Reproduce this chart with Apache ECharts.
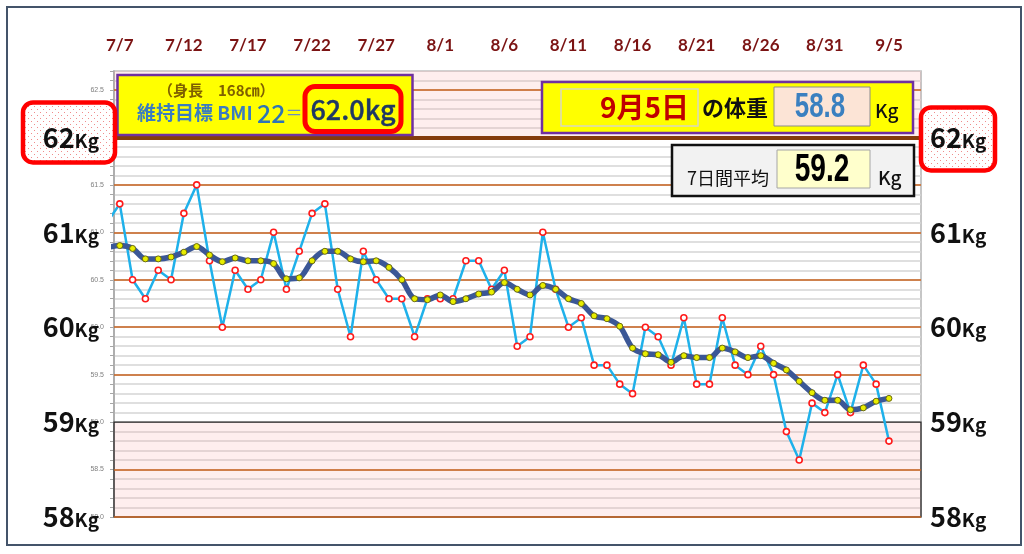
<!DOCTYPE html>
<html>
<head>
<meta charset="utf-8">
<script src="https://cdn.jsdelivr.net/npm/echarts@6/dist/echarts.min.js"></script>
<style>
  html, body { margin: 0; padding: 0; background: #fff; }
  #chart-container { width: 1024px; height: 554px; }
</style>
</head>
<body>
<div id="chart-container"></div>
<script>
// fechas (7/6 queda fuera del eje, solo para que la linea entre por la izquierda)
const dates = [
  '7/6', '7/7', '7/8', '7/9', '7/10', '7/11', '7/12', '7/13', '7/14', '7/15', '7/16',
  '7/17', '7/18', '7/19', '7/20', '7/21', '7/22', '7/23', '7/24', '7/25', '7/26',
  '7/27', '7/28', '7/29', '7/30', '7/31',
  '8/1', '8/2', '8/3', '8/4', '8/5', '8/6', '8/7', '8/8', '8/9', '8/10',
  '8/11', '8/12', '8/13', '8/14', '8/15', '8/16', '8/17', '8/18', '8/19', '8/20',
  '8/21', '8/22', '8/23', '8/24', '8/25', '8/26', '8/27', '8/28', '8/29', '8/30', '8/31',
  '9/1', '9/2', '9/3', '9/4', '9/5'
];

const weights = [
  61.1,
  61.3, 60.5, 60.3, 60.6, 60.5, 61.2, 61.5, 60.7, 60.0, 60.6,
  60.4, 60.5, 61.0, 60.4, 60.8, 61.2, 61.3, 60.4, 59.9, 60.8,
  60.5, 60.3, 60.3, 59.9, 60.3, 60.3, 60.3, 60.7, 60.7, 60.4,
  60.6, 59.8, 59.9, 61.0, 60.4, 60.0, 60.1, 59.6, 59.6, 59.4,
  59.3, 60.0, 59.9, 59.6, 60.1, 59.4, 59.4, 60.1, 59.6, 59.5,
  59.8, 59.5, 58.9, 58.6, 59.2, 59.1, 59.5, 59.1, 59.6, 59.4,
  58.8
];

const averages = [
  60.84,
  60.86, 60.83, 60.72, 60.72, 60.74, 60.79, 60.85, 60.76, 60.69, 60.73,
  60.70, 60.70, 60.67, 60.51, 60.52, 60.70, 60.80, 60.80, 60.72, 60.69,
  60.70, 60.63, 60.50, 60.30, 60.29, 60.34, 60.27, 60.30, 60.35, 60.37,
  60.47, 60.40, 60.34, 60.44, 60.40, 60.30, 60.25, 60.12, 60.09, 60.01,
  59.78, 59.72, 59.71, 59.63, 59.70, 59.68, 59.68, 59.78, 59.74, 59.68,
  59.70, 59.62, 59.55, 59.43, 59.31, 59.23, 59.23, 59.13, 59.15, 59.22,
  59.25
];

const dateTicks = [1, 6, 11, 16, 21, 26, 31, 36, 41, 46, 51, 56, 61];
const smallTicks = [58, 58.5, 59, 59.5, 60, 60.5, 61, 61.5, 62, 62.5];
const kgTicks = [58, 59, 60, 61];
const goalWeight = 62;
const orangeLevels = [58, 58.5, 59.5, 60, 60.5, 61, 61.5, 62.5];
const lowZone = [58, 59];
const highZone = [62, 62.7];

const heightText = '（身長　168㎝）';
const goalText = '62.0kg';
const todayText = '9月5日';
const todayWeight = '58.8';
const weekAverage = '59.2';

const X_MIN = 0.55, X_MAX = 63.5, Y_MIN = 58, Y_MAX = 62.7;

let myChart = echarts.init(document.getElementById('chart-container'), null, { renderer: 'canvas' });

function puntos() {
  const c = document.createElement('canvas');
  c.width = 6; c.height = 6;
  const ctx = c.getContext('2d');
  ctx.fillStyle = '#ffffff';
  ctx.fillRect(0, 0, 6, 6);
  ctx.fillStyle = '#f08c8c';
  ctx.fillRect(1, 1, 1, 1);
  ctx.fillRect(4, 4, 1, 1);
  return c;
}

const JP = 'Noto Sans CJK JP';
const numFont = "'Liberation Sans', Arial, sans-serif";

const kgRich = {
  n: { fontSize: 27, fontWeight: 'bold', color: '#111', fontFamily: JP },
  k: { fontSize: 19, fontWeight: 'bold', color: '#111', fontFamily: JP, padding: [6, 0, 0, 0] }
};
const kgFormatter = v => `{n|${v}}{k|Kg}`;

const hiddenAxis = {
  type: 'value', min: Y_MIN, max: Y_MAX, z: 110,
  axisLine: { show: false }, axisTick: { show: false }, splitLine: { show: false }
};

const opciones = {
  animation: false,
  backgroundColor: '#ffffff',
  grid: {
    left: 114, right: 103, top: 71, bottom: 37,
    show: true, borderColor: '#b4b4b4', borderWidth: 1.5, backgroundColor: '#ffffff'
  },
  xAxis: {
    type: 'value', position: 'top', min: X_MIN, max: X_MAX,
    axisLine: { show: false }, axisTick: { show: false }, splitLine: { show: false },
    axisLabel: {
      customValues: dateTicks,
      formatter: v => dates[v],
      color: '#7b1313', fontSize: 17, fontWeight: 'bold', fontFamily: 'Lato', margin: 17
    }
  },
  yAxis: [
    {
      type: 'value', min: Y_MIN, max: Y_MAX, interval: 0.1,
      axisLine: { show: true, lineStyle: { color: '#a6a6a6', width: 1.5 } },
      axisTick: { show: true, length: 4, lineStyle: { color: '#a6a6a6' } },
      splitLine: { show: true, lineStyle: { color: '#d4d4d4', width: 1.5 } },
      axisLabel: {
        customValues: smallTicks,
        formatter: v => v.toFixed(1),
        fontSize: 7, color: '#7f7f7f', margin: 10
      }
    },
    Object.assign({}, hiddenAxis, {
      position: 'left',
      axisLabel: { customValues: kgTicks.concat([goalWeight]), formatter: kgFormatter, rich: kgRich, margin: 15 }
    }),
    Object.assign({}, hiddenAxis, {
      position: 'right',
      axisLabel: { customValues: kgTicks.concat([goalWeight]), formatter: kgFormatter, rich: kgRich, margin: 9 }
    })
  ],
  series: [
    {
      name: '体重',
      type: 'line',
      z: 3,
      data: weights.map((v, i) => [i, v]),
      lineStyle: { color: '#1fb1ea', width: 2.5 },
      symbol: 'circle', symbolSize: 6,
      itemStyle: { color: '#ffffff', borderColor: '#ff1a1a', borderWidth: 1.6 },
      markArea: {
        z: 1, silent: true,
        data: [
          [{ xAxis: X_MIN, yAxis: highZone[0] }, { xAxis: X_MAX, yAxis: highZone[1] }],
          [{ xAxis: X_MIN, yAxis: lowZone[0], itemStyle: { borderColor: '#262626', borderWidth: 1.2 } },
           { xAxis: X_MAX, yAxis: lowZone[1] }]
        ],
        itemStyle: { color: 'rgba(248, 170, 170, 0.2)' }
      },
      markLine: {
        z: 2, silent: true, symbol: ['none', 'none'],
        label: { show: false },
        data: orangeLevels.map(y => ({ yAxis: y, lineStyle: { color: '#c8621c', width: 1.5, type: 'solid' } }))
          .concat([{ yAxis: goalWeight, lineStyle: { color: '#843c0c', width: 4, type: 'solid' } }])
      }
    },
    {
      name: '7日間平均',
      type: 'line',
      z: 4,
      smooth: 0.3,
      data: averages.map((v, i) => [i, v]),
      lineStyle: { color: '#3b5796', width: 5.5 },
      symbol: 'circle', symbolSize: 6,
      itemStyle: { color: '#e8ee00', borderColor: '#6b6b10', borderWidth: 1 }
    }
  ],
  graphic: [
    { id: 'marco', type: 'rect', z: 100, shape: { x: 7, y: 7, width: 1014, height: 538 },
      style: { fill: 'none', stroke: '#44546a', lineWidth: 2 } },

    // cuadro BMI
    { id: 'bmiCaja', type: 'rect', z: 100, shape: { x: 117.5, y: 75, width: 295, height: 60 },
      style: { fill: '#ffff00', stroke: '#7030a0', lineWidth: 2.5 } },
    { id: 'altura', type: 'text', z: 101, x: 158, y: 90,
      style: { text: heightText, fontSize: 15, fontWeight: 'bold', fontFamily: JP, fill: '#7f6000', verticalAlign: 'middle' } },
    { id: 'bmiTexto', type: 'text', z: 101, x: 137, y: 113,
      style: {
        text: '{a|維持目標 BMI }{b|22}{c|＝}', verticalAlign: 'middle',
        rich: {
          a: { fontSize: 19, fontWeight: 'bold', fontFamily: JP, fill: '#3a7cc0' },
          b: { fontSize: 25, fontWeight: 500, fontFamily: JP, fill: '#2e75b6' },
          c: { fontSize: 17, fontFamily: JP, fill: '#6d8fbf' }
        }
      } },
    { id: 'metaCaja', type: 'rect', z: 101, shape: { x: 305, y: 86.5, width: 96, height: 45, r: 10 },
      style: { fill: '#ffff00', stroke: '#ff0000', lineWidth: 5 } },
    { id: 'metaTexto', type: 'text', z: 102, x: 353, y: 110,
      style: { text: goalText, fontSize: 27, fontWeight: 500, fontFamily: JP, fill: '#1f3864', align: 'center', verticalAlign: 'middle',
        stroke: '#1f3864', lineWidth: 0.4 } },

    // cuadro peso del dia
    { id: 'diaCaja', type: 'rect', z: 100, shape: { x: 542, y: 82, width: 371, height: 51 },
      style: { fill: '#ffff00', stroke: '#7030a0', lineWidth: 2.5 } },
    { id: 'diaMarco', type: 'rect', z: 101, shape: { x: 561, y: 89, width: 137, height: 37 },
      style: { fill: 'none', stroke: '#d9d9c0', lineWidth: 1.5 } },
    { id: 'diaTexto', type: 'text', z: 102, x: 689, y: 107,
      style: { text: todayText, fontSize: 28, fontWeight: 'bold', fontFamily: JP, fill: '#c00000', align: 'right', verticalAlign: 'middle' } },
    { id: 'taijuu', type: 'text', z: 102, x: 702, y: 108,
      style: { text: 'の体重', fontSize: 22, fontWeight: 'bold', fontFamily: JP, fill: '#111', verticalAlign: 'middle' } },
    { id: 'pesoCaja', type: 'rect', z: 101, shape: { x: 774, y: 87, width: 96, height: 39 },
      style: { fill: '#fce4d6', stroke: '#8c8c8c', lineWidth: 1 } },
    { id: 'pesoTexto', type: 'text', z: 102, x: 820, y: 107, scaleX: 0.74,
      style: { text: todayWeight, fontSize: 35, fontWeight: 'bold', fontFamily: numFont, fill: '#3a80c0', align: 'center', verticalAlign: 'middle' } },
    { id: 'pesoKg', type: 'text', z: 102, x: 875, y: 111,
      style: { text: 'Kg', fontSize: 19, fontWeight: 500, fontFamily: JP, fill: '#111', verticalAlign: 'middle' } },

    // cuadro promedio 7 dias
    { id: 'promCaja', type: 'rect', z: 100, shape: { x: 672, y: 145, width: 242, height: 51 },
      style: { fill: '#f2f2f2', stroke: '#111', lineWidth: 2.5 } },
    { id: 'promEtiqueta', type: 'text', z: 102, x: 687, y: 178,
      style: { text: '7日間平均', fontSize: 18, fontFamily: JP, fill: '#111', verticalAlign: 'middle' } },
    { id: 'promValorCaja', type: 'rect', z: 101, shape: { x: 777, y: 150, width: 93, height: 38 },
      style: { fill: '#ffffcc', stroke: '#a6a6a6', lineWidth: 1 } },
    { id: 'promTexto', type: 'text', z: 102, x: 822, y: 170, scaleX: 0.72,
      style: { text: weekAverage, fontSize: 39, fontWeight: 'bold', fontFamily: numFont, fill: '#000', align: 'center', verticalAlign: 'middle' } },
    { id: 'promKg', type: 'text', z: 102, x: 878, y: 178,
      style: { text: 'Kg', fontSize: 19, fontWeight: 500, fontFamily: JP, fill: '#111', verticalAlign: 'middle' } }
  ]
};

myChart.setOption(opciones);

// recuadros rojos del objetivo (62Kg) colocados sobre el eje
const goalY = myChart.convertToPixel({ yAxisIndex: 0 }, goalWeight);
const leftX = myChart.convertToPixel({ xAxisIndex: 0 }, X_MIN);
const rightX = myChart.convertToPixel({ xAxisIndex: 0 }, X_MAX);
const patron = { image: puntos(), repeat: 'repeat' };
myChart.setOption({
  graphic: [
    { id: 'metaIzq', type: 'rect', z: 105, shape: { x: 23, y: goalY - 35, width: leftX - 22, height: 60, r: 10 },
      style: { fill: patron, stroke: '#ff0000', lineWidth: 4.5 } },
    { id: 'metaDer', type: 'rect', z: 105, shape: { x: rightX, y: goalY - 30, width: 74, height: 63, r: 10 },
      style: { fill: patron, stroke: '#ff0000', lineWidth: 4.5 } }
  ]
});

window.addEventListener('resize', myChart.resize);
</script>
</body>
</html>
